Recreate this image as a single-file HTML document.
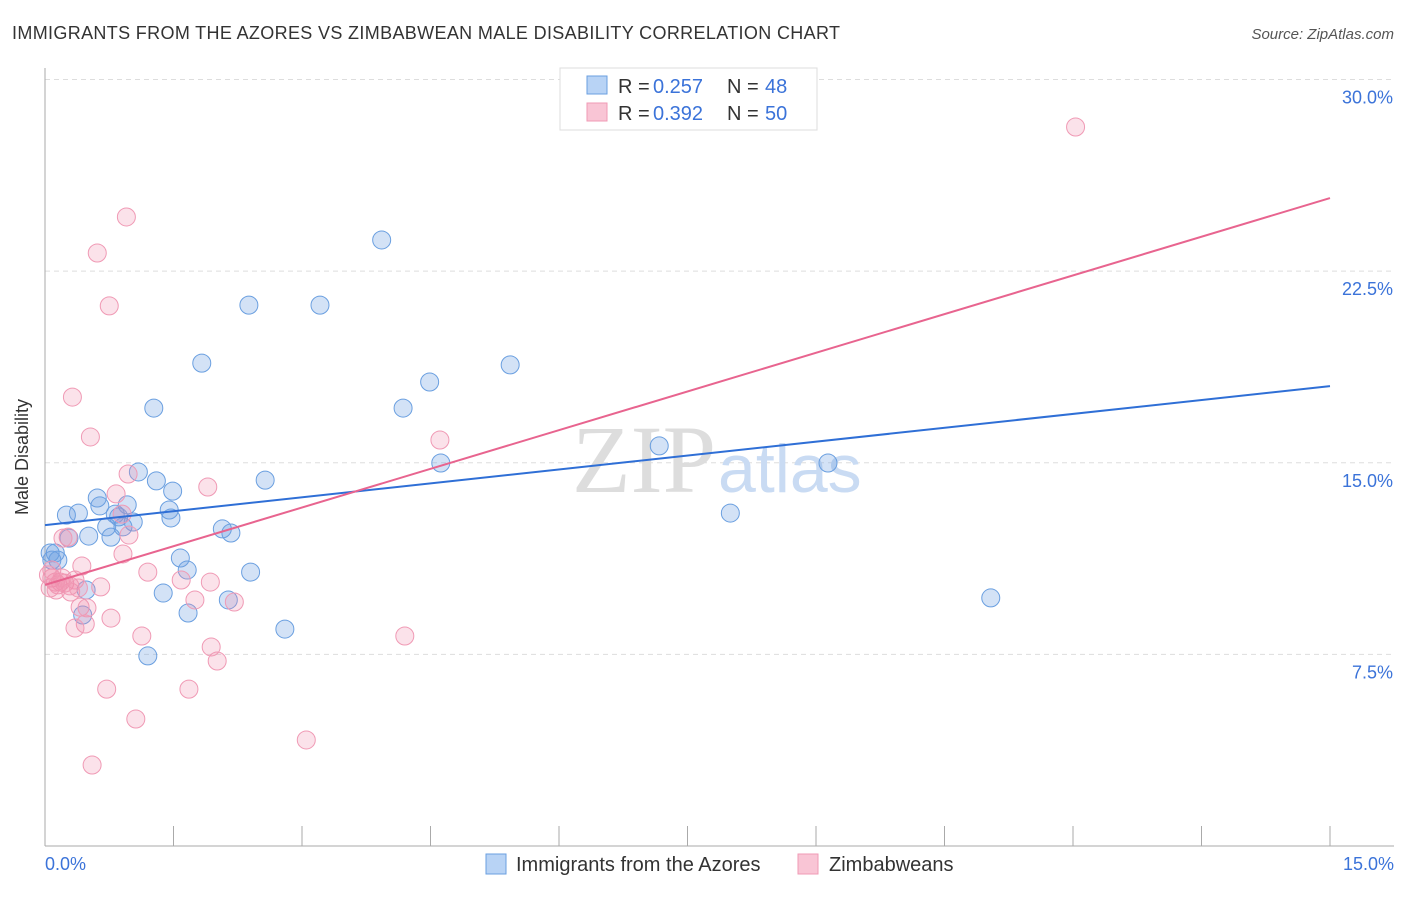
<!DOCTYPE html>
<html><head><meta charset="utf-8"><style>
body{margin:0;background:#fff;font-family:"Liberation Sans",sans-serif}
svg text{font-family:"Liberation Sans",sans-serif}
</style></head><body>
<svg width="1406" height="892">
<text x="12" y="39" font-size="18" fill="#333" textLength="828">IMMIGRANTS FROM THE AZORES VS ZIMBABWEAN MALE DISABILITY CORRELATION CHART</text>
<text x="1394" y="39" font-size="15" fill="#555" font-style="italic" text-anchor="end">Source: ZipAtlas.com</text>
<g id="grid"></g>
<text x="716" y="492" font-size="96" fill="#ddd" text-anchor="end" style="font-family:'Liberation Serif',serif">ZIP</text>
<text x="718" y="492" font-size="68" fill="#c9dbf3">atlas</text>
<line x1="45" y1="68" x2="45" y2="846" stroke="#aaa"/>
<line x1="45" y1="846" x2="1394" y2="846" stroke="#aaa"/>
<text x="28" y="457" font-size="18" fill="#333" transform="rotate(-90 28 457)" text-anchor="middle">Male Disability</text>
<text x="45" y="870" font-size="18" fill="#3b73d9">0.0%</text>
<text x="1394" y="870" font-size="18" fill="#3b73d9" text-anchor="end">15.0%</text>
<g id="marks"></g>
<g>
<rect x="560" y="68" width="257" height="62" fill="#fff" stroke="#ddd"/>
<rect x="587" y="76" width="20" height="18" fill="#b8d3f5" stroke="#6a9fe0"/>
<rect x="587" y="103" width="20" height="18" fill="#f9c5d5" stroke="#f09ab5"/>
<text x="618" y="93" font-size="20" fill="#333">R =</text>
<text x="653" y="93" font-size="20" fill="#3b73d9">0.257</text>
<text x="727" y="93" font-size="20" fill="#333">N =</text>
<text x="765" y="93" font-size="20" fill="#3b73d9">48</text>
<text x="618" y="120" font-size="20" fill="#333">R =</text>
<text x="653" y="120" font-size="20" fill="#3b73d9">0.392</text>
<text x="727" y="120" font-size="20" fill="#333">N =</text>
<text x="765" y="120" font-size="20" fill="#3b73d9">50</text>
</g>
<g>
<rect x="486" y="854" width="20" height="20" fill="#b8d3f5" stroke="#6a9fe0"/>
<text x="516" y="871" font-size="20" fill="#333">Immigrants from the Azores</text>
<rect x="798" y="854" width="20" height="20" fill="#f9c5d5" stroke="#f09ab5"/>
<text x="829" y="871" font-size="20" fill="#333">Zimbabweans</text>
</g>
</svg>
<script>
const yTicks=[7.5,15,22.5,30];
const xTicks=[0,1.5,3,4.5,6,7.5,9,10.5,12,13.5,15];
const blueX=[3.93,2.38,3.21,1.83,5.43,4.49,1.27,4.18,7.17,4.62,9.14,1.09,2.57,1.30,1.49,0.61,0.96,1.45,0.64,0.39,0.25,0.82,0.86,1.47,1.03,0.72,0.91,2.07,2.17,0.51,0.28,0.77,8.00,1.58,0.12,0.08,1.66,2.40,0.48,1.38,2.14,11.04,0.44,1.67,2.80,1.20,0.06,0.15];
const blueY=[23.72,21.17,21.17,18.90,18.83,18.16,17.14,17.14,15.66,14.99,14.99,14.64,14.32,14.29,13.89,13.62,13.35,13.15,13.31,13.03,12.95,12.99,12.88,12.84,12.68,12.49,12.49,12.41,12.25,12.13,12.05,12.09,13.03,11.27,11.47,11.19,10.80,10.72,10.02,9.90,9.63,9.71,9.04,9.12,8.49,7.44,11.47,11.19];
const pinkX=[12.03,0.95,0.61,0.75,0.32,0.53,4.61,1.90,0.97,0.83,0.90,0.98,0.27,0.21,0.91,0.43,1.20,1.59,1.93,0.08,0.12,0.18,0.23,0.06,0.15,0.35,0.65,0.30,1.75,2.21,0.41,0.49,0.77,0.47,0.35,1.13,4.20,1.94,2.01,0.72,1.68,1.06,3.05,0.55,0.29,0.39,0.08,0.20,0.04,0.13];
const pinkY=[28.14,24.62,23.21,21.14,17.57,16.01,15.89,14.05,14.56,13.78,12.99,12.17,12.09,12.05,11.43,10.96,10.72,10.41,10.33,10.49,10.33,10.33,10.29,10.10,10.22,10.41,10.14,9.94,9.63,9.55,9.35,9.32,8.92,8.69,8.53,8.22,8.22,7.79,7.24,6.14,6.14,4.97,4.15,3.17,10.18,10.10,10.80,10.49,10.61,10.02];
const blueLine=[12.56,18.0];
const pinkLine=[10.22,25.36];
const NS='http://www.w3.org/2000/svg';
const sx=v=>45+v/15*1285;
const sy=v=>846-v*25.55;
function mk(t,a,p){const e=document.createElementNS(NS,t);for(const k in a)e.setAttribute(k,a[k]);p.appendChild(e);return e;}
const grid=document.getElementById('grid'),marks=document.getElementById('marks');
yTicks.forEach(v=>{
 const l=mk('line',{x1:45,x2:1394,y1:sy(v),y2:sy(v),stroke:'#ddd','stroke-dasharray':'5,4'},grid);
 
 
 const t=mk('text',{x:1393,y:sy(v)+24,'font-size':18,fill:'#3b73d9','text-anchor':'end'},grid);
 t.textContent=v.toFixed(1)+'%';
 
 
});
xTicks.forEach(v=>{
 const l=mk('line',{x1:sx(v),x2:sx(v),y1:826,y2:846,stroke:'#aaa'},grid);
 
 
});
blueX.forEach((x,i)=>{
 const c=mk('circle',{cx:sx(x),cy:sy(blueY[i]),r:9,fill:'rgba(110,160,225,0.3)',stroke:'#6a9fe0','stroke-width':1},marks);
 
 
});
pinkX.forEach((x,i)=>{
 const c=mk('circle',{cx:sx(x),cy:sy(pinkY[i]),r:9,fill:'rgba(240,140,170,0.25)',stroke:'#f09ab5','stroke-width':1},marks);
 
 
});
const bl=mk('line',{x1:sx(0),y1:sy(blueLine[0]),x2:sx(15),y2:sy(blueLine[1]),stroke:'#2f6fd6','stroke-width':2},marks);


const pl=mk('line',{x1:sx(0),y1:sy(pinkLine[0]),x2:sx(15),y2:sy(pinkLine[1]),stroke:'#e8648f','stroke-width':2},marks);


</script>
</body></html>
